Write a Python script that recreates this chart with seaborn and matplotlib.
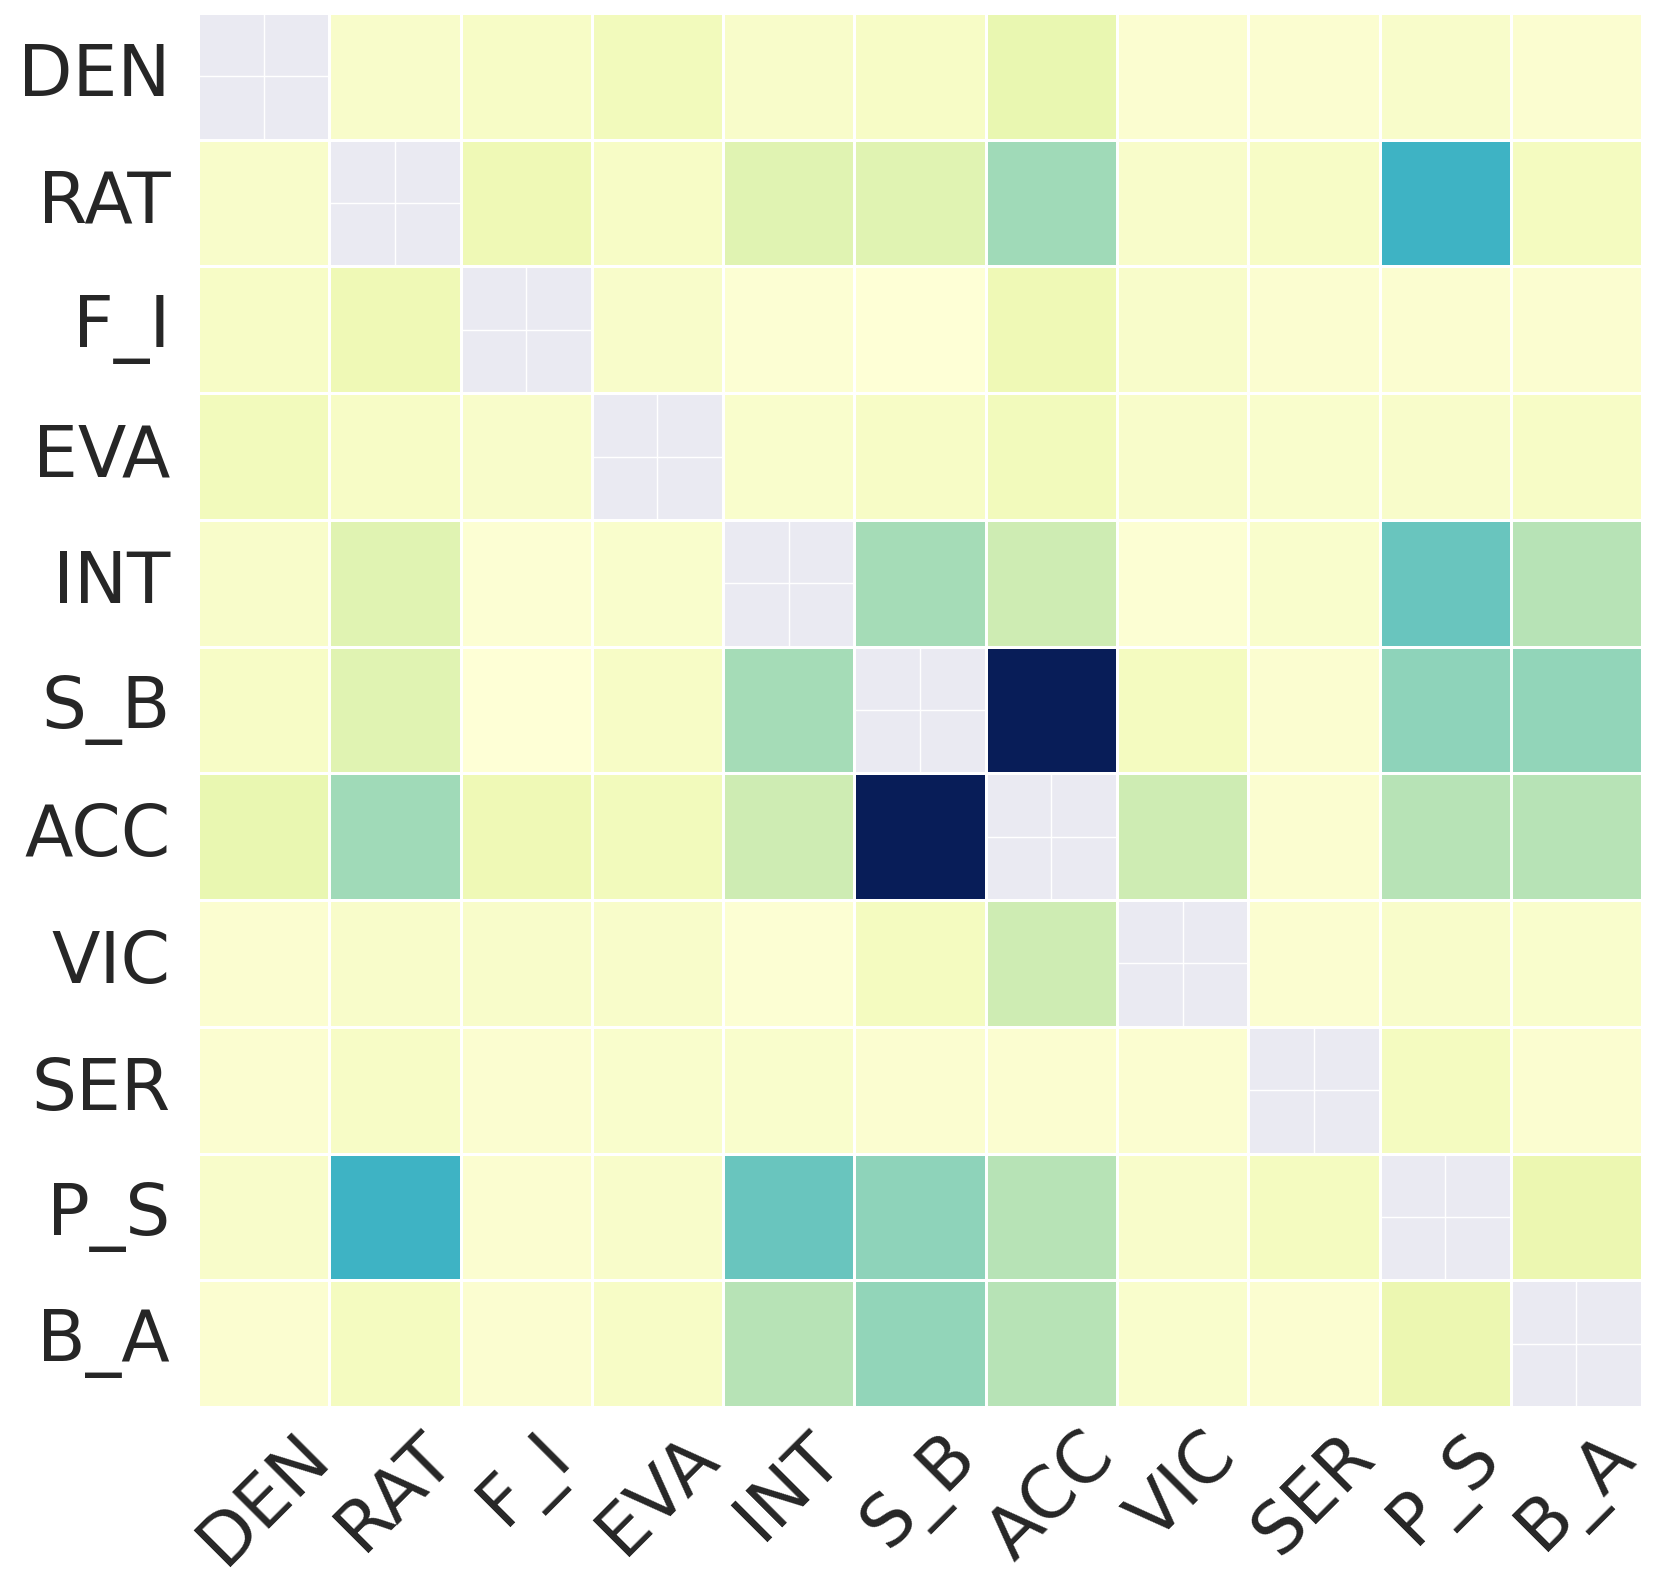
import numpy as np
import pandas as pd
import matplotlib
matplotlib.use("Agg")
import matplotlib.pyplot as plt
import seaborn as sns

labels = ["DEN", "RAT", "F_I", "EVA", "INT", "S_B", "ACC", "VIC", "SER", "P_S", "B_A"]

# upper-triangle values, row by row (symmetric matrix)
row_DEN = [0.05, 0.06, 0.09, 0.05, 0.06, 0.14, 0.03, 0.03, 0.05, 0.03]
row_RAT = [0.11, 0.06, 0.17, 0.17, 0.32, 0.05, 0.06, 0.51, 0.08]
row_F_I = [0.05, 0.02, 0.01, 0.11, 0.05, 0.03, 0.03, 0.03]
row_EVA = [0.04, 0.06, 0.09, 0.05, 0.04, 0.05, 0.06]
row_INT = [0.31, 0.23, 0.02, 0.04, 0.42, 0.28]
row_S_B = [1.00, 0.08, 0.03, 0.35, 0.34]
row_ACC = [0.23, 0.03, 0.28, 0.28]
row_VIC = [0.03, 0.05, 0.04]
row_SER = [0.08, 0.03]
row_P_S = [0.13]

rows = [row_DEN, row_RAT, row_F_I, row_EVA, row_INT, row_S_B, row_ACC, row_VIC, row_SER, row_P_S]
n = len(labels)
mat = np.full((n, n), np.nan)
for i, r in enumerate(rows):
    for k, v in enumerate(r):
        j = i + 1 + k
        mat[i, j] = v
        mat[j, i] = v

df = pd.DataFrame(mat, index=labels, columns=labels)

sns.set_theme(style="darkgrid")
fig = plt.figure(figsize=(16.61, 15.82), dpi=100)
ax = fig.add_axes([0.1192, 0.1106, 0.8694, 0.8812])
sns.heatmap(df, cmap="YlGnBu", vmin=0, vmax=1, cbar=False, linewidths=1, linecolor="white", ax=ax)
ax.tick_params(axis="both", length=0, labelsize=51)
ax.tick_params(axis="y", pad=20)
ax.tick_params(axis="x", pad=10)
plt.setp(ax.get_xticklabels(), rotation=45, ha="center")
plt.setp(ax.get_yticklabels(), rotation=0)
ax.set_xlabel("")
ax.set_ylabel("")
fig.savefig("out.png", dpi=100)
